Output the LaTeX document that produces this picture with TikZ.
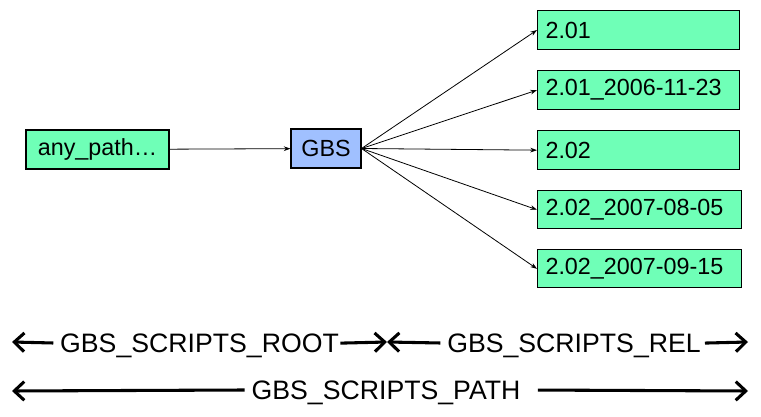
\documentclass[tikz,border=0pt]{standalone}
\usepackage{fontspec}
\setmainfont{Liberation Sans}
\usetikzlibrary{positioning,arrows.meta}
\definecolor{vergreen}{RGB}{111,255,183}
\definecolor{gbsblue}{RGB}{160,192,255}

\begin{document}
\begin{tikzpicture}[
  x=0.75pt, y=-0.75pt,
  >={Stealth[length=5pt,width=3.5pt]}, node distance=15pt,
  box/.style={draw, line width=0.8pt, minimum height=29.25pt, inner xsep=6pt, font=\fontsize{17.5}{20}\selectfont},
  ver/.style={box, fill=vergreen, text width=139.5pt, align=left},
  span/.style={font=\fontsize{20}{24}\selectfont, inner xsep=5pt, inner ysep=0pt, text height=14.3pt, text depth=0pt},
  bigarrow/.style={-{Straight Barb[length=7.5pt,width=14pt]}, line width=2.3pt}
]
  \useasboundingbox (0,0) rectangle (761,417);
  \node[box, fill=vergreen, minimum width=107.25pt] (anypath) at (97.5,149.5) {any\_path\ldots};
  \node[box, fill=gbsblue, minimum width=52.5pt] (gbs) at (326,148.5) {GBS};
  \node[ver, anchor=north west] (v1) at (537,10) {2.01};
  \node[ver, below=of v1.south west, anchor=north west] (v2) {2.01\_2006-11-23};
  \node[ver, below=of v2.south west, anchor=north west] (v3) {2.02};
  \node[ver, below=of v3.south west, anchor=north west, text width=141pt, minimum height=28.5pt] (v4) {2.02\_2007-08-05};
  \node[ver, below=of v4.south west, anchor=north west, text width=141pt, minimum height=28.5pt] (v5) {2.02\_2007-09-15};
  \draw[->, line width=0.6pt] (anypath) -- (gbs);
  \foreach \v in {v1,v2,v3,v4,v5}
    \draw[->, line width=0.6pt] (gbs.east) -- (\v.west);
  % variable spans
  \coordinate (rootL) at (12,342);
  \coordinate (mid) at (387,342);
  \coordinate (relR) at (748,342);
  \node[span] (root) at (199.5,343) {GBS\_SCRIPTS\_ROOT};
  \node[span] (rel) at (574,343) {GBS\_SCRIPTS\_REL};
  \draw[bigarrow] (root.west) -- (rootL);
  \draw[bigarrow, shorten <=-4pt] (root.east) -- (mid);
  \draw[bigarrow] (rel.west) -- (mid);
  \draw[bigarrow, shorten <=-2pt] (rel.east) -- (relR);
  \coordinate (pathL) at (12,391);
  \coordinate (pathR) at (748,391);
  \node[span] (path) at (386,390) {GBS\_SCRIPTS\_PATH};
  \draw[bigarrow] (path.west) -- (pathL);
  \draw[bigarrow, shorten <=8pt] (path.east) -- (pathR);
\end{tikzpicture}
\end{document}
